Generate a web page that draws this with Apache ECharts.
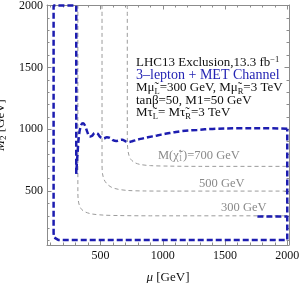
<!DOCTYPE html>
<html><head><meta charset="utf-8">
<script src="https://cdn.jsdelivr.net/npm/echarts@6/dist/echarts.min.js"></script>
<style>html,body{margin:0;padding:0;background:#fff}#c{width:300px;height:283px}</style>
</head><body><div id="c"></div>
<script>
// ---- data ----
const xMajor = [500, 1000, 1500, 2000];
const yMajor = [500, 1000, 1500, 2000];
const xMinor = [100,200,300,400,600,700,800,900,1100,1200,1300,1400,1600,1700,1800,1900];
const yMinor = [100,200,300,400,600,700,800,900,1100,1200,1300,1400,1600,1700,1800,1900];

// blue exclusion contour: straight outer part (mu, M2)
const blueBoxMu = [305, 305, 123, 123, 127, 137, 160, 2000, 2000];
const blueBoxM2 = [640, 2000, 2000, 160, 125, 112, 105, 105, 1005];
// blue exclusion contour: wavy upper part (mu, M2)
const blueCurveMu = [2000, 1800, 1600, 1400, 1276, 1150, 1088, 1020, 955, 880, 821, 760, 725, 700, 675, 650, 625, 600, 575, 550, 525, 500, 475, 455, 430, 412, 395, 375, 360, 345, 328, 315, 305];
const blueCurveM2 = [1005, 1008, 1008, 1003, 995, 985, 975, 963, 950, 935, 922, 905, 897, 903, 915, 912, 905, 912, 930, 935, 925, 935, 965, 970, 945, 940, 975, 1030, 1048, 1035, 960, 800, 640];
// small blue segment at lower right
const blue2Mu = [1760, 2000];
const blue2M2 = [295, 295];

// chargino mass contours
const c700Mu = [715, 715, 718, 728, 745, 775, 820, 900, 1050, 1300, 2000];
const c700M2 = [2005, 950, 850, 790, 755, 730, 715, 706, 702, 700, 700];
const c500Mu = [512, 512, 516, 530, 555, 590, 640, 720, 850, 1100, 2000];
const c500M2 = [2005, 720, 640, 590, 555, 530, 515, 505, 501, 500, 500];
const c300Mu = [318, 318, 322, 332, 350, 380, 430, 520, 650, 900, 2000];
const c300M2 = [2005, 480, 420, 380, 350, 330, 315, 306, 302, 300, 300];

const zip = (a, b) => a.map((v, i) => [v, b[i]]);

const serif = '"Liberation Serif", "DejaVu Serif", serif';
const frameColor = '#8c8c8c';
const fmt = v => String(v);

function axisSet(dim, pos, major, minor, labels, extra) {
  const base = dim === 'x' ? {min: 70, max: 2014} : {min: 64, max: 2005};
  const majorAxis = Object.assign({
    type: 'value', position: pos, offset: 0, ...base,
    axisLine: {show: true, lineStyle: {color: frameColor, width: 1}},
    axisTick: {show: true, inside: true, length: 4.5, customValues: major, lineStyle: {color: frameColor}},
    axisLabel: {show: labels, customValues: major, formatter: fmt, fontFamily: serif, fontSize: 12, color: '#111', margin: dim === 'x' ? 5 : 4},
    splitLine: {show: false}
  }, extra || {});
  const minorAxis = {
    type: 'value', position: pos, offset: 0, ...base,
    axisLine: {show: false},
    axisTick: {show: true, inside: true, length: 2.5, customValues: minor, lineStyle: {color: frameColor}},
    axisLabel: {show: false},
    splitLine: {show: false}
  };
  return [majorAxis, minorAxis];
}

const xs = [
  ...axisSet('x', 'bottom', xMajor, xMinor, true, {
    name: '{i|μ} [GeV]', nameLocation: 'middle', nameGap: 26,
    nameTextStyle: {fontFamily: serif, fontSize: 13, color: '#111', rich: {i: {fontStyle: 'italic', fontFamily: serif, fontSize: 13}}}
  }),
  ...axisSet('x', 'top', xMajor, xMinor, false)
];
const ys = [
  ...axisSet('y', 'left', yMajor, yMinor, true, {
    name: '{i|M}{s|2} [GeV]', nameLocation: 'middle', nameGap: 26,
    nameTextStyle: {fontFamily: serif, fontSize: 13, color: '#111', rich: {
      i: {fontStyle: 'italic', fontFamily: serif, fontSize: 13, lineHeight: 16},
      s: {fontFamily: serif, fontSize: 9, verticalAlign: 'bottom', lineHeight: 8}
    }}
  }),
  ...axisSet('y', 'right', yMajor, yMinor, false)
];

const blue = '#1d1db0';
const gray = '#9b9b9b';
function line(data, color, width, dash, smooth) {
  return {type: 'line', data, xAxisIndex: 0, yAxisIndex: 0, showSymbol: false, smooth: smooth || false,
    lineStyle: {color, width, type: dash}, silent: true, z: width > 2 ? 5 : 3};
}

const FS = 13;
const txtRich = {
  n: {fontFamily: serif, fontSize: FS, lineHeight: 16, fill: '#111'},
  sub: {fontFamily: serif, fontSize: 8.5, verticalAlign: 'bottom', lineHeight: 8, fill: '#111'},
  sup: {fontFamily: serif, fontSize: 8.5, verticalAlign: 'top', lineHeight: 8, fill: '#111'}
};
function T(x, y, text) {
  return {type: 'text', x, y, style: {text, fill: '#111', font: FS + 'px ' + serif, rich: txtRich, verticalAlign: 'middle'}, z: 10};
}
const grayRich = {
  g: {fontFamily: serif, fontSize: 12.5, lineHeight: 15, fill: '#8a8a8a'},
  gsub: {fontFamily: serif, fontSize: 7.5, verticalAlign: 'bottom', lineHeight: 7, width: 0.01, fill: '#8a8a8a'},
  gsup: {fontFamily: serif, fontSize: 7.5, verticalAlign: 'top', lineHeight: 7, fill: '#8a8a8a'}
};
function G(x, y, text) {
  return {type: 'text', x, y, style: {text, font: '12.5px ' + serif, fill: '#8a8a8a', rich: grayRich, verticalAlign: 'middle'}, z: 10};
}

const chart = echarts.init(document.getElementById('c'), null, {renderer: 'canvas'});
chart.setOption({
  animation: false,
  backgroundColor: '#fff',
  grid: {left: 47, right: 11, top: 5, bottom: 38, containLabel: false, outerBoundsMode: 'none'},
  xAxis: xs,
  yAxis: ys,
  series: [
    line(zip(c700Mu, c700M2), gray, 1, [4, 3], 0.3),
    line(zip(c500Mu, c500M2), gray, 1, [4, 3], 0.3),
    line(zip(c300Mu, c300M2), gray, 1, [4, 3], 0.3),
    line(zip(blueBoxMu, blueBoxM2), blue, 2.5, [6, 3]),
    line(zip(blueCurveMu, blueCurveM2), blue, 2.5, [6, 3], 0.35),
    line(zip(blue2Mu, blue2M2), blue, 2.5, [6, 3])
  ],
  graphic: [
    T(136, 63, '{n|LHC13 Exclusion,13.3 fb}{sup|−1}'),
    {type: 'text', x: 136, y: 75.5, style: {text: '3–lepton + MET Channel', font: '14px ' + serif, fill: '#2424b4', verticalAlign: 'middle'}, z: 10},
    T(136, 88, '{n|Mμ̃}{sub|L}{n|=300 GeV, Mμ̃}{sub|R}{n|=3 TeV}'),
    T(136, 100.5, '{n|tanβ=50, M1=50 GeV}'),
    T(136, 113, '{n|Mτ̃}{sub|L}{n|= Mτ̃}{sub|R}{n|=3 TeV}'),
    G(158, 156, '{g|M(χ̃}{gsub|1}{gsup|+}{g|)=700 GeV}'),
    G(199, 184, '{g|500 GeV}'),
    G(221, 208, '{g|300 GeV}')
  ]
});
</script></body></html>
